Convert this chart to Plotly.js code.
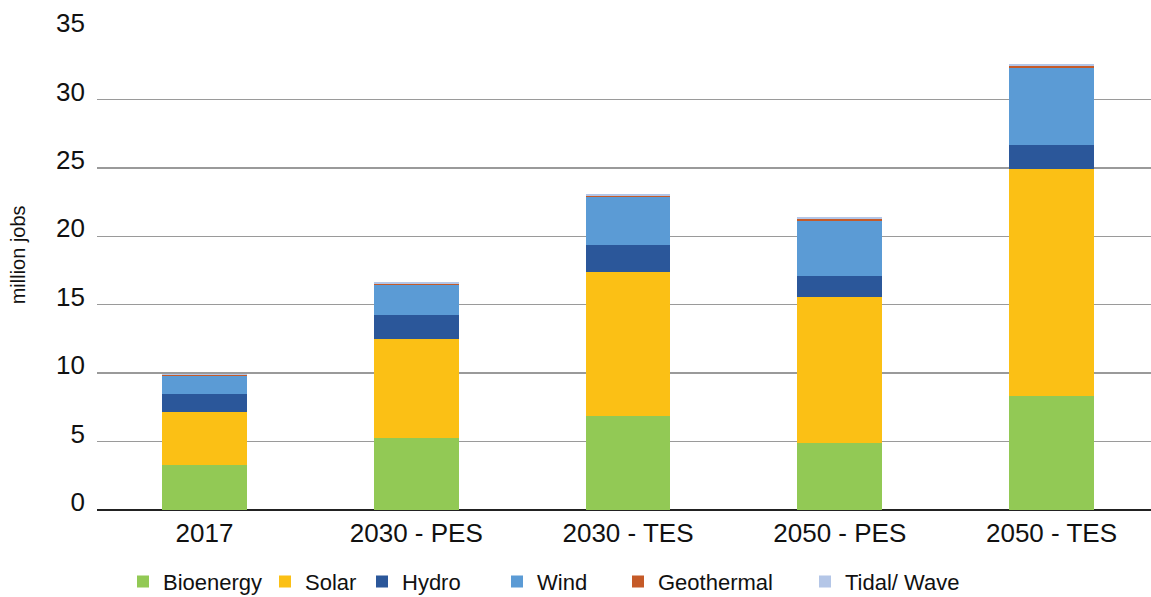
<!DOCTYPE html>
<html>
<head>
<meta charset="utf-8">
<script src="https://cdn.plot.ly/plotly-3.0.1.min.js"></script>
<style>html,body{margin:0;padding:0;background:#fff;}#chart{width:1151px;height:597px;}</style>
</head>
<body>
<div id="chart"></div>
<script>
const categories = ["2017", "2030 - PES", "2030 - TES", "2050 - PES", "2050 - TES"];
const bioenergy = [3.3, 5.28, 6.9, 4.91, 8.36];
const solar = [3.87, 7.22, 10.49, 10.66, 16.53];
const hydro = [1.32, 1.76, 1.97, 1.53, 1.76];
const wind = [1.33, 2.16, 3.49, 4.02, 5.64];
const geothermal = [0.06, 0.12, 0.12, 0.15, 0.15];
const tidalWave = [0.05, 0.12, 0.12, 0.15, 0.15];
const yTicks = [0, 5, 10, 15, 20, 25, 30, 35];

const seriesNames = ["Bioenergy", "Solar", "Hydro", "Wind", "Geothermal", "Tidal/ Wave"];
const seriesValues = [bioenergy, solar, hydro, wind, geothermal, tidalWave];
const seriesColors = ["#92c955", "#fbc015", "#2b579a", "#5b9bd5", "#c55a28", "#b4c6e7"];
const legendPx = [145, 287, 384, 519, 640, 827];

const plotL = 97, plotW = 1151 - 97;
const legendKeys = ["legend", "legend2", "legend3", "legend4", "legend5", "legend6"];

const traces = seriesNames.map((n, i) => ({
  type: "bar",
  name: n,
  x: categories,
  y: seriesValues[i],
  marker: {color: seriesColors[i], line: {width: 0}},
  legend: legendKeys[i],
  hoverinfo: "name+y"
}));

const layout = {
  width: 1151, height: 597,
  margin: {l: plotL, r: 0, t: 31, b: 87, pad: 0, autoexpand: false},
  paper_bgcolor: "#ffffff", plot_bgcolor: "#ffffff",
  barmode: "stack",
  bargap: 0.6,
  font: {family: "Liberation Sans, Arial, sans-serif", color: "#111"},
  xaxis: {
    type: "category",
    range: [-0.5077, 4.470],
    showgrid: false,
    showline: false,
    ticks: "",
    ticklabelstandoff: 5,
    tickfont: {size: 26, color: "#111"},
    fixedrange: true
  },
  yaxis: {
    range: [0, 35],
    tickvals: yTicks,
    ticktext: yTicks.map(String),
    showgrid: true,
    gridcolor: "#9a9a9a",
    gridwidth: 1.5,
    zeroline: true,
    zerolinecolor: "#222",
    zerolinewidth: 2,
    showline: false,
    ticks: "",
    ticklabelstandoff: 11,
    ticklabelshift: -8,
    tickfont: {size: 26, color: "#111"},
    fixedrange: true
  },
  annotations: [{
    text: "million jobs",
    xref: "paper", yref: "paper",
    x: (18 - plotL) / plotW, y: (510.3 - 255.5) / 479.3,
    xanchor: "center", yanchor: "middle",
    textangle: -90,
    showarrow: false,
    font: {size: 20, color: "#111"}
  }],
  showlegend: true
};

legendKeys.forEach((k, i) => {
  layout[k] = {
    orientation: "h",
    x: (legendPx[i] - 22 - plotL) / plotW,
    xanchor: "left",
    y: (510.3 - 582) / 479.3,
    yanchor: "middle",
    bgcolor: "rgba(0,0,0,0)",
    borderwidth: 0,
    font: {size: 22, color: "#111"},
    itemclick: false, itemdoubleclick: false
  };
});

Plotly.newPlot("chart", traces, layout, {displayModeBar: false, staticPlot: true});
</script>
</body>
</html>
